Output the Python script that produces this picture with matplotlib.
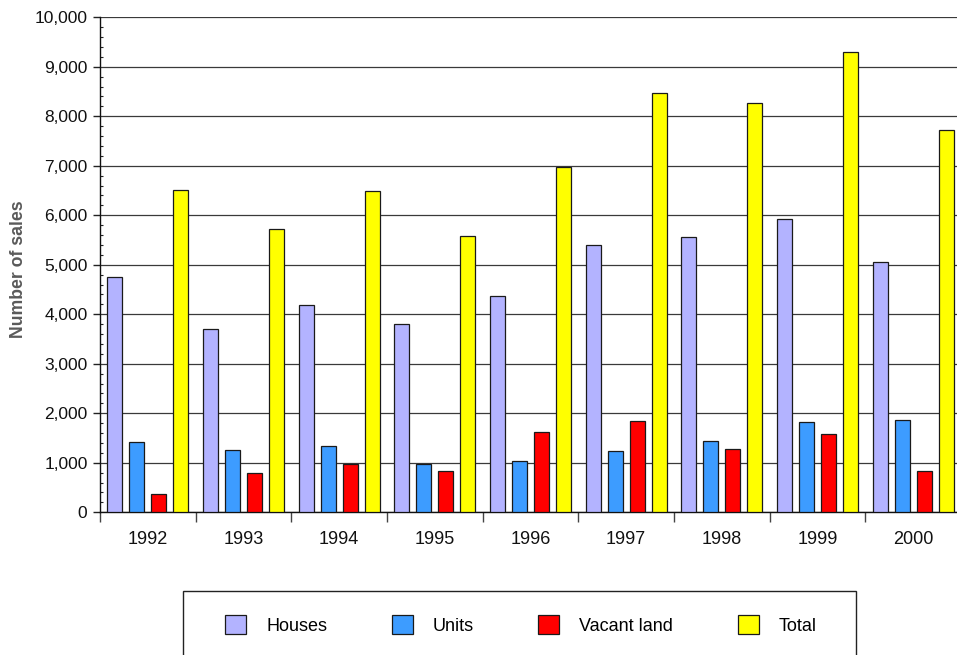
import matplotlib
matplotlib.use("Agg")
import matplotlib.pyplot as plt
import numpy as np
from matplotlib.patches import Rectangle
from matplotlib.ticker import MultipleLocator, FixedLocator, NullFormatter, FuncFormatter

plt.rcParams['font.family'] = ['Liberation Sans', 'DejaVu Sans']

# Sales by year and property type
years = ["1992", "1993", "1994", "1995", "1996", "1997", "1998", "1999", "2000"]
houses = [4750, 3710, 4190, 3810, 4360, 5410, 5560, 5930, 5060]
units = [1420, 1255, 1345, 985, 1030, 1245, 1445, 1820, 1860]
vacant_land = [360, 790, 985, 835, 1615, 1840, 1285, 1590, 840]
total = [6510, 5725, 6490, 5590, 6975, 8470, 8260, 9295, 7720]

series_names = ["Houses", "Units", "Vacant land", "Total"]
series_values = [houses, units, vacant_land, total]
series_colors = ["#B3B3FF", "#3D9CFF", "#FF0000", "#FFFF00"]

W, H = 957, 655
fig = plt.figure(figsize=(W / 100, H / 100), dpi=100)

left_px, right_px, top_px, bottom_px = 100, 961, 17.3, 512.3
ax = fig.add_axes([left_px / W, 1 - bottom_px / H,
                   (right_px - left_px) / W, (bottom_px - top_px) / H])

x = np.arange(len(years))
step = 0.23
width = 0.157
handles = []
for k, (name, vals, col) in enumerate(zip(series_names, series_values, series_colors)):
    b = ax.bar(x + (k - 1.5) * step, vals, width=width, color=col,
               edgecolor="#1a1a1a", linewidth=0.9, label=name, zorder=3)
    handles.append(b)

ax.set_xlim(-0.5, len(years) - 0.5)
ax.set_ylim(0, 10000)

# y axis: thousands with comma separators, minor ticks every 200
ax.yaxis.set_major_locator(MultipleLocator(1000))
ax.yaxis.set_minor_locator(MultipleLocator(200))
ax.yaxis.set_major_formatter(FuncFormatter(lambda v, p: f"{int(v):,}"))
ax.tick_params(axis="y", which="major", direction="out", length=5, width=1,
               color="#222222", labelsize=12.5, pad=4, labelcolor="#111111")
ax.tick_params(axis="y", which="minor", direction="in", length=2.5, width=0.8,
               color="#222222")

# x axis: boundary ticks between years, labels centred under each group
ax.xaxis.set_major_locator(FixedLocator(np.arange(-0.5, len(years) + 0.5, 1.0)))
ax.xaxis.set_major_formatter(NullFormatter())
ax.xaxis.set_minor_locator(FixedLocator(x))
ax.set_xticklabels(years, minor=True)
ax.tick_params(axis="x", which="major", direction="out", length=7, width=1,
               color="#444444")
ax.tick_params(axis="x", which="minor", length=0, labelsize=13, pad=13.5,
               labelcolor="#111111")

ax.grid(axis="y", which="major", color="#3a3a3a", linewidth=0.9, zorder=0)
ax.set_axisbelow(True)
for s in ["top", "right"]:
    ax.spines[s].set_visible(False)
ax.spines["left"].set_color("#111111")
ax.spines["bottom"].set_color("#111111")
ax.spines["left"].set_linewidth(1)
ax.spines["bottom"].set_linewidth(1)

fig.text(19 / W, 1 - 269 / H, "Number of sales", rotation=90, ha="center",
         va="center", fontsize=12.7, fontweight="bold", color="#5a5a5a")

# legend box
box = Rectangle((183 / W, -0.05), (856 - 183) / W, (H - 591) / H + 0.05,
                transform=fig.transFigure, facecolor="white",
                edgecolor="#222222", linewidth=1)
fig.patches.append(box)
fs = 13
px_per_fs = fs * 100 / 72
leg = fig.legend(handles=handles, labels=series_names, ncol=4, frameon=False,
                 loc="center left", bbox_to_anchor=(225 / W, 1 - 625 / H),
                 borderpad=0, borderaxespad=0, fontsize=fs,
                 handlelength=21 / px_per_fs, handleheight=21 / px_per_fs,
                 handletextpad=20 / px_per_fs, columnspacing=64.5 / px_per_fs)

fig.savefig("out.png", dpi=100)
